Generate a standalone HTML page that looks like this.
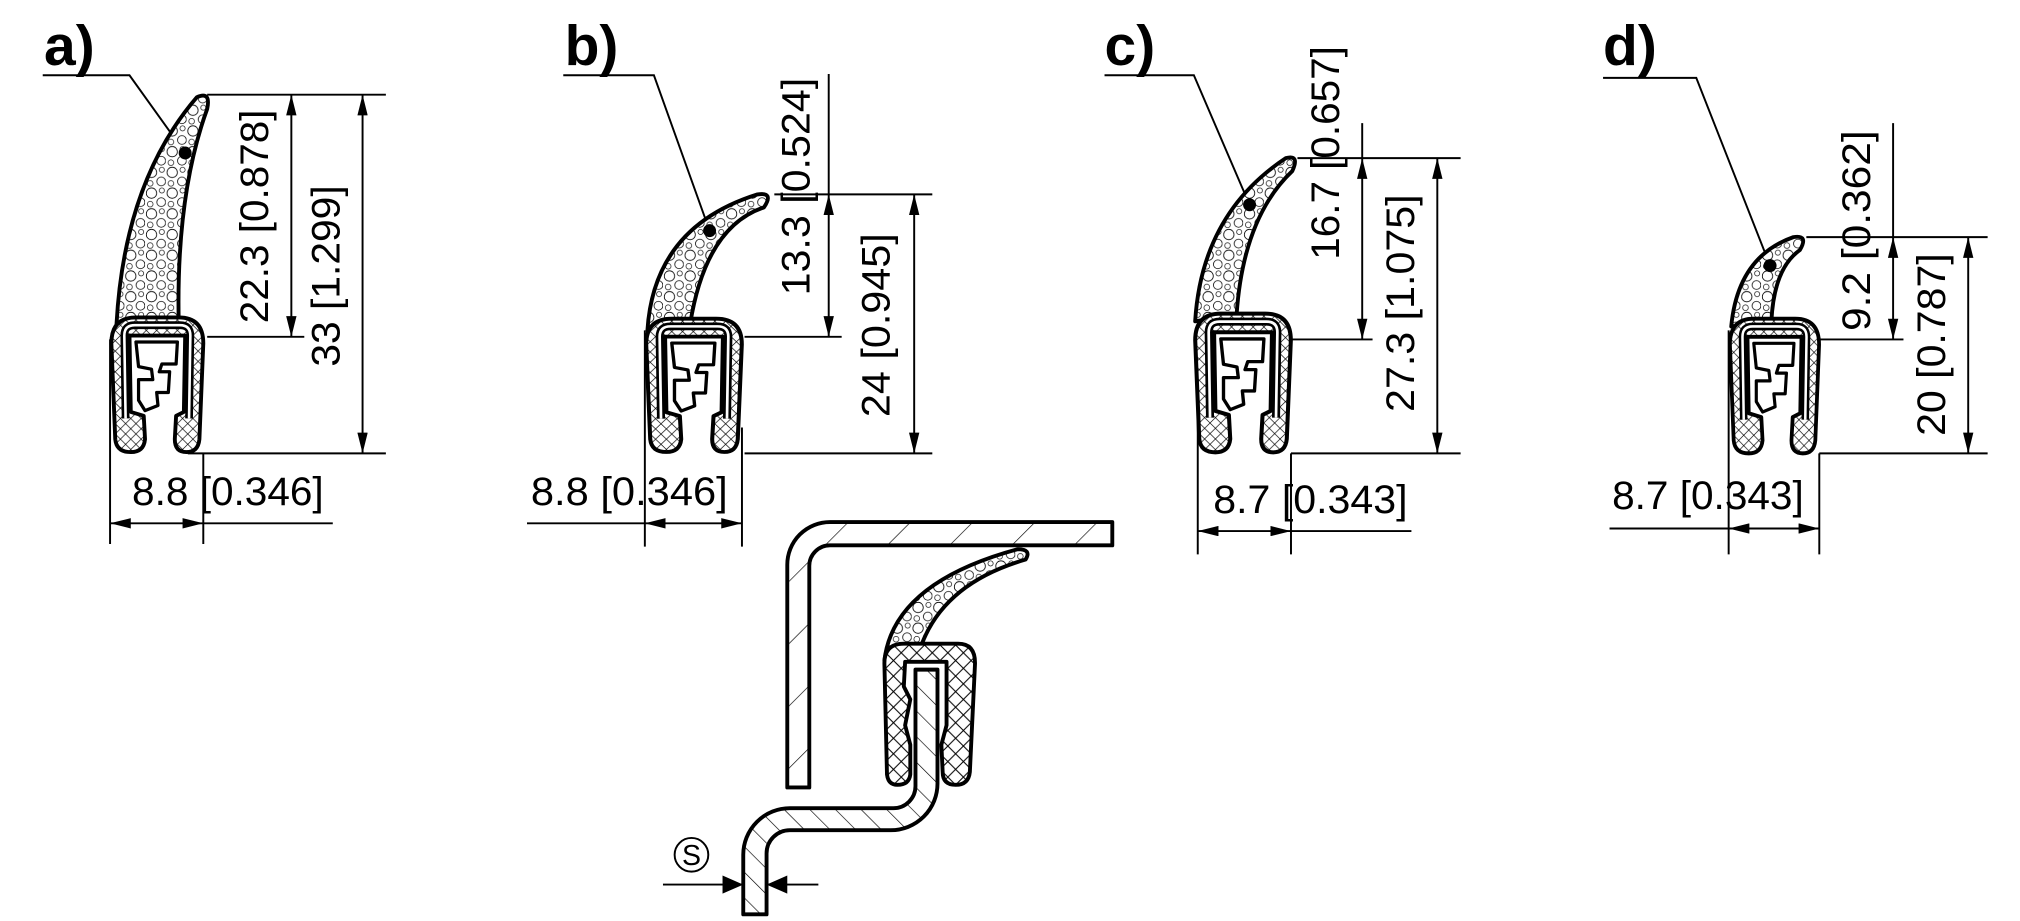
<!DOCTYPE html>
<html><head><meta charset="utf-8"><style>
html,body{margin:0;padding:0;background:#fff;}
svg{display:block}
text{font-family:"Liberation Sans",sans-serif;fill:#000}
</style></head><body>
<svg width="2020" height="921" viewBox="0 0 1560 711" xmlns="http://www.w3.org/2000/svg">
<defs>
<pattern id="foam" width="16" height="16" patternUnits="userSpaceOnUse">
<rect width="16" height="16" fill="#fff"/>
<circle cx="5" cy="5" r="4" fill="none" stroke="#000" stroke-width="0.6"/>
<circle cx="12.5" cy="12" r="3.4" fill="none" stroke="#000" stroke-width="0.6"/>
<circle cx="13" cy="3" r="2" fill="none" stroke="#000" stroke-width="0.5"/>
<circle cx="4" cy="13.5" r="2.2" fill="none" stroke="#000" stroke-width="0.5"/>
</pattern>
<pattern id="xh" width="8" height="8" patternUnits="userSpaceOnUse">
<rect width="8" height="8" fill="#fff"/>
<path d="M0,0L8,8M8,0L0,8" stroke="#000" stroke-width="0.5"/>
</pattern>
<pattern id="xh2" width="12" height="12" patternUnits="userSpaceOnUse">
<rect width="12" height="12" fill="#fff"/>
<path d="M0,0L12,12M12,0L0,12" stroke="#000" stroke-width="0.8"/>
</pattern>
<pattern id="hatch" width="34" height="34" patternUnits="userSpaceOnUse" patternTransform="rotate(45)">
<rect width="34" height="34" fill="#fff"/>
<line x1="0" y1="0" x2="0" y2="34" stroke="#000" stroke-width="1"/>
</pattern>
<pattern id="hatch2" width="14" height="14" patternUnits="userSpaceOnUse" patternTransform="rotate(-45)">
<rect width="14" height="14" fill="#fff"/>
<line x1="0" y1="0" x2="0" y2="14" stroke="#000" stroke-width="1"/>
</pattern>
<marker id="ar" viewBox="0 0 16 8" refX="16" refY="4" markerWidth="16" markerHeight="8" markerUnits="userSpaceOnUse" orient="auto-start-reverse">
<path d="M0,0L16,4L0,8Z" fill="#000"/>
</marker>
<g id="U">
<path d="M4,96 L1,22 Q1,2 20,2 H53 Q72,2 72,22 L69,96 Q68,106 59,106 Q50,106 50,96 L51,78 L57,75 L58,16 L15,16 L16,75 L26,78 L27,96 Q26,106 16,106 Q5,106 4,96 Z" fill="url(#xh)" stroke="#000" stroke-width="3" stroke-linejoin="round"/>
<path d="M12,80 L11,16 Q11,8 19,8 H54 Q62,8 62,16 L61,80" fill="none" stroke="#000" stroke-width="6"/>
<path d="M12,80 L11,16 Q11,8 19,8 H54 Q62,8 62,16 L61,80" fill="none" stroke="#fff" stroke-width="2"/>
<path d="M20,21 H52 L51,38 H40 L38,44 H46 L45,60 H36 L37,70 L27,74 L22,66 L22,50 H33 L32,42 L22,40 Z" fill="#fff" stroke="#000" stroke-width="2.5" stroke-linejoin="round"/>
</g>
</defs>
<rect width="1560" height="711" fill="#fff"/>

<g font-weight="bold" font-size="44">
<text x="34" y="50">a)</text>
<text x="436" y="50">b)</text>
<text x="853" y="50">c)</text>
<text x="1238" y="50">d)</text>
</g>

<g stroke="#000" stroke-width="1.5" fill="none">
<path d="M33,58 H100 L143,118"/>
<path d="M160,73 H298 M160,260 H235 M145,350 H298 M85,262 V420 M157,350 V420 M157,404 H257"/>
<line x1="225" y1="73" x2="225" y2="260" marker-start="url(#ar)" marker-end="url(#ar)"/>
<line x1="280" y1="73" x2="280" y2="350" marker-start="url(#ar)" marker-end="url(#ar)"/>
<line x1="85" y1="404" x2="157" y2="404" marker-start="url(#ar)" marker-end="url(#ar)"/>
<path d="M435,58 H505 L548,178"/>
<path d="M598,150 H720 M575,260 H650 M575,350 H720 M498,255 V422 M573,330 V422 M407,404 H498"/>
<line x1="640" y1="57" x2="640" y2="150"/>
<line x1="640" y1="150" x2="640" y2="260" marker-start="url(#ar)" marker-end="url(#ar)"/>
<line x1="706" y1="150" x2="706" y2="350" marker-start="url(#ar)" marker-end="url(#ar)"/>
<line x1="498" y1="404" x2="573" y2="404" marker-start="url(#ar)" marker-end="url(#ar)"/>
<path d="M853,58 H922 L965,158"/>
<path d="M1002,122 H1128 M997,262 H1060 M997,350 H1128 M925,250 V428 M997,350 V428 M997,410 H1090 M1052,95 V122"/>
<line x1="1052" y1="122" x2="1052" y2="262" marker-start="url(#ar)" marker-end="url(#ar)"/>
<line x1="1110" y1="122" x2="1110" y2="350" marker-start="url(#ar)" marker-end="url(#ar)"/>
<line x1="925" y1="410" x2="997" y2="410" marker-start="url(#ar)" marker-end="url(#ar)"/>
<path d="M1238,60 H1310 L1367,205"/>
<path d="M1395,183 H1535 M1405,262 H1470 M1405,350 H1535 M1335,255 V428 M1405,350 V428 M1243,408 H1335 M1462,95 V183"/>
<line x1="1462" y1="183" x2="1462" y2="262" marker-start="url(#ar)" marker-end="url(#ar)"/>
<line x1="1520" y1="183" x2="1520" y2="350" marker-start="url(#ar)" marker-end="url(#ar)"/>
<line x1="1335" y1="408" x2="1405" y2="408" marker-start="url(#ar)" marker-end="url(#ar)"/>
<path d="M512,683 H574 M592,683 H632"/>
</g>
<path d="M558,676 L574,683 L558,690Z M608,676 L592,683 L608,690Z" fill="#000"/>

<g stroke="#000" stroke-width="3" stroke-linejoin="round">
<path d="M90,250 Q96,140 152,75 Q163,70 160,84 Q136,150 138,248 Z" fill="url(#foam)"/>
<path d="M500,255 Q505,175 585,150 Q598,148 590,160 Q545,175 533,250 Z" fill="url(#foam)"/>
<path d="M923,248 Q928,165 993,122 Q1004,119 998,132 Q960,168 955,243 Z" fill="url(#foam)"/>
<path d="M1337,252 Q1342,198 1385,183 Q1397,181 1390,193 Q1370,207 1368,248 Z" fill="url(#foam)"/>
</g>
<use href="#U" transform="translate(85,243)"/>
<use href="#U" transform="translate(498,244) scale(1.04,0.99)"/>
<use href="#U" transform="translate(922,240) scale(1.04,1.03)"/>
<use href="#U" transform="translate(1335,244) scale(0.97,1)"/>
<g fill="#000">
<circle cx="143" cy="118" r="5"/>
<circle cx="548" cy="178" r="5"/>
<circle cx="965" cy="158" r="5"/>
<circle cx="1367" cy="205" r="5"/>
</g>

<g font-size="31">
<text x="102" y="390" textLength="148" lengthAdjust="spacingAndGlyphs">8.8 [0.346]</text>
<text x="410" y="390" textLength="152" lengthAdjust="spacingAndGlyphs">8.8 [0.346]</text>
<text x="937" y="396" textLength="150" lengthAdjust="spacingAndGlyphs">8.7 [0.343]</text>
<text x="1245" y="393" textLength="148" lengthAdjust="spacingAndGlyphs">8.7 [0.343]</text>
<g text-anchor="middle">
<text transform="translate(207,167) rotate(-90)" textLength="165" lengthAdjust="spacingAndGlyphs">22.3 [0.878]</text>
<text transform="translate(262,213) rotate(-90)" textLength="140" lengthAdjust="spacingAndGlyphs">33 [1.299]</text>
<text transform="translate(625,144) rotate(-90)" textLength="168" lengthAdjust="spacingAndGlyphs">13.3 [0.524]</text>
<text transform="translate(687,251) rotate(-90)" textLength="142" lengthAdjust="spacingAndGlyphs">24 [0.945]</text>
<text transform="translate(1034,118) rotate(-90)" textLength="165" lengthAdjust="spacingAndGlyphs">16.7 [0.657]</text>
<text transform="translate(1092,234) rotate(-90)" textLength="168" lengthAdjust="spacingAndGlyphs">27.3 [1.075]</text>
<text transform="translate(1444,178) rotate(-90)" textLength="155" lengthAdjust="spacingAndGlyphs">9.2 [0.362]</text>
<text transform="translate(1502,266) rotate(-90)" textLength="141" lengthAdjust="spacingAndGlyphs">20 [0.787]</text>
</g>
</g>

<g stroke="#000" stroke-width="3" stroke-linejoin="round">
<path d="M608,608 L608,436 A33,33 0 0 1 641,403 L859,403 L859,421 L641,421 A16,16 0 0 0 625,437 L625,608 Z" fill="url(#hatch)"/>
<path d="M683,510 Q690,450 786,424 Q797,424 792,432 Q730,450 712,497 Z" fill="url(#foam)"/>
<path d="M683,512 Q683,497 698,497 H740 Q753,497 753,512 L749,596 Q748,606 738,606 Q728,606 728,596 L727,575 L731,560 L731,511 H699 L698,530 L703,540 L699,560 L703,575 L703,598 Q702,606 693,606 Q686,606 685,598 Z" fill="url(#xh2)"/>
<path d="M574,706 V660 A36,36 0 0 1 610,624 L690,624 A17,17 0 0 0 707,607 V517 H724 V605 A36,36 0 0 1 688,641 L610,641 A18,18 0 0 0 592,659 V706 Z" fill="url(#hatch2)"/>
</g>
<circle cx="534" cy="660" r="13" fill="none" stroke="#000" stroke-width="1.5"/>
<text x="534" y="668" font-size="22" text-anchor="middle">S</text>
</svg>
</body></html>
